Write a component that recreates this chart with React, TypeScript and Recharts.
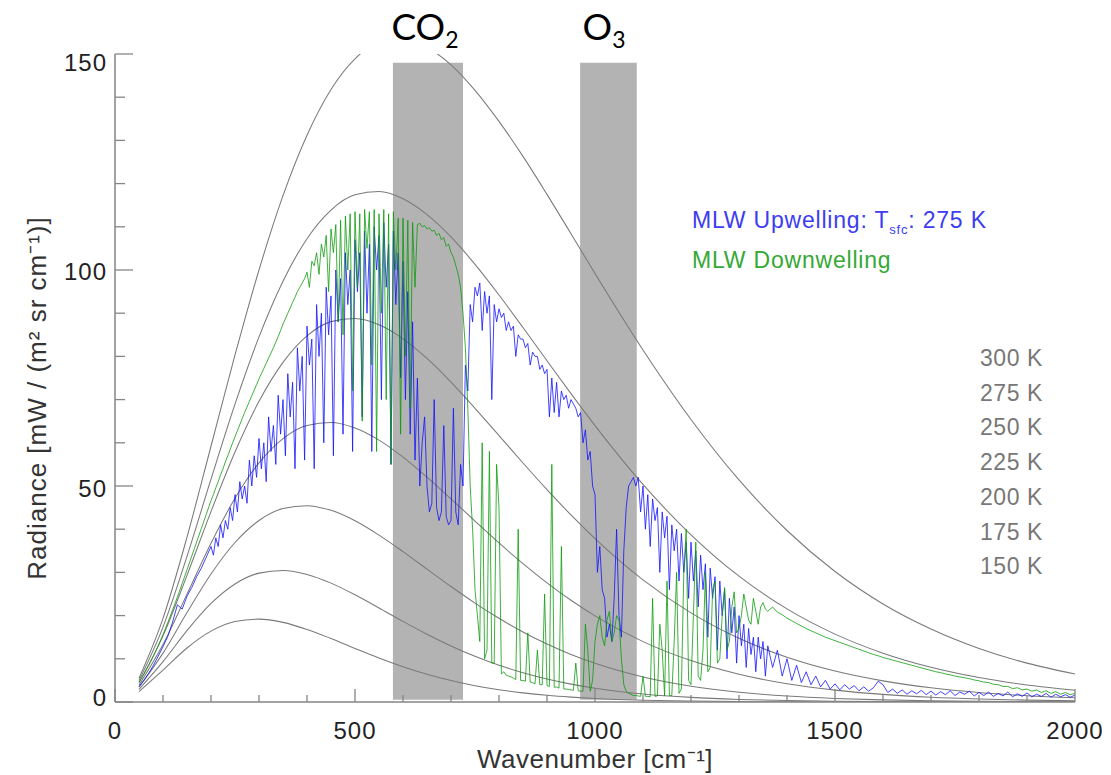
import React from "react";
import { LineChart, Line, XAxis, YAxis, ReferenceArea } from "recharts";

// wavenumber grid (cm-1) for the blackbody reference curves
const planckWaves = [
  50, 100, 150, 200, 250, 300, 350, 400, 450, 500, 550, 600, 650, 700, 750, 800, 850, 900, 950, 1000,
  1100, 1200, 1300, 1400, 1500, 1600, 1700, 1800, 1900, 2000,
];

// radiance, mW / (m2 sr cm-1)
const planck300 = [5.49, 19.35, 38.17, 59.2, 80.33, 100.0, 117.2, 131.2, 141.8, 148.9, 152.6, 153.4, 151.5, 147.5, 141.6, 134.4, 126.3, 117.5, 108.4, 99.2, 81.5, 65.4, 51.4, 39.7, 30.2, 22.7, 16.9, 12.4, 9.0, 6.5];
const planck275 = [4.98, 17.33, 33.72, 51.58, 68.96, 84.52, 97.42, 107.25, 113.87, 117.4, 118.16, 116.49, 112.83, 107.65, 101.3, 94.21, 86.68, 78.99, 71.37, 63.98, 50.36, 38.7, 29.13, 21.55, 15.71, 11.3, 8.03, 5.65, 3.94, 2.72];
const planck250 = [4.47, 15.31, 29.32, 44.08, 57.87, 69.59, 78.61, 84.74, 88.05, 88.77, 87.31, 84.07, 79.52, 74.04, 67.99, 61.67, 55.33, 49.16, 43.3, 37.83, 28.28, 20.64, 14.75, 10.36, 7.16, 4.89, 3.3, 2.2, 1.46, 0.96];
const planck225 = [3.95, 13.3, 24.97, 36.75, 47.16, 55.35, 60.97, 64.01, 64.72, 63.44, 60.63, 56.7, 52.05, 47.01, 41.87, 36.82, 32.03, 27.58, 23.54, 19.93, 13.98, 9.58, 6.42, 4.23, 2.75, 1.76, 1.11, 0.7, 0.43, 0.27];
const planck200 = [3.44, 11.31, 20.7, 29.63, 36.92, 42.01, 44.78, 45.45, 44.37, 41.96, 38.64, 34.81, 30.76, 26.73, 22.9, 19.37, 16.2, 13.41, 11.0, 8.95, 5.8, 3.67, 2.27, 1.38, 0.83, 0.49, 0.29, 0.17, 0.09, 0.05];
const planck175 = [2.93, 9.34, 16.53, 22.81, 27.33, 29.83, 30.45, 29.54, 27.52, 24.82, 21.77, 18.67, 15.7, 12.98, 10.57, 8.5, 6.76, 5.31, 4.14, 3.2, 1.87, 1.07, 0.6, 0.33, 0.18, 0.09, 0.05, 0.03, 0.01, 0.01];
const planck150 = [2.42, 7.4, 12.5, 16.4, 18.61, 19.18, 18.43, 16.8, 14.69, 12.41, 10.19, 8.17, 6.42, 4.96, 3.78, 2.84, 2.11, 1.55, 1.13, 0.81, 0.41, 0.21, 0.1, 0.05, 0.02, 0.01, 0.01, 0, 0, 0];

const tempLabels = ["300 K", "275 K", "250 K", "225 K", "200 K", "175 K", "150 K"];

// spectra: main samples every 10 cm-1 from 50 to 2000,
// plus line samples halfway between them (205 .. 1355) where the lines are dense
const SPEC_START = 50;
const MID_START = 205;
const SPEC_STEP = 10;

const upwelling = [
  3.6, 5.0, 6.6, 8.5, 10.6,
  12.8, 15.2, 18.5, 22.5, 21.5, 24.5, 26.5, 29, 31, 33.5,
  36, 38, 41, 42, 45, 48, 51, 50, 56, 57, // 200
  61, 60, 66, 64, 71, 70, 76, 74, 82, 80,
  87, 84, 92, 90, 96, 94, 100, 98, 104, 100, // 400
  107, 104, 109, 106, 110, 108, 111, 106, 109, 104,
  102, 95, 88, 75, 60, 50, 46, 45, 44, 43, // 600
  42, 44, 55, 78, 92, 96, 97, 95, 94, 92,
  91, 90, 88, 87, 85, 84, 83, 81, 80, 78, // 800
  77, 75, 74, 72, 71, 70, 68, 67, 63, 58,
  48, 36, 24, 18, 24, 20, 35, 50, 52, 52, // 1000
  50, 48, 47, 45, 44, 43, 41, 40, 39, 37,
  37, 35, 34, 32, 31, 29, 28, 26, 24, 22, // 1200
  20, 18, 17, 15, 15, 14, 13, 8, 12, 6,
  10, 5, 8.5, 4.5, 7, 4, 6, 3.5, 5, 3, // 1400
  4.2, 2.8, 4, 3, 3.8, 2.6, 3.5, 2.5, 3.3, 4.8,
  4, 2.2, 3, 2, 2.8, 1.8, 2.6, 1.9, 2.7, 1.7, // 1600
  2.5, 1.6, 2.4, 1.7, 2.6, 1.5, 2.3, 1.8, 2.5, 1.4,
  2.2, 1.5, 2.3, 1.3, 2.0, 1.4, 2.3, 1.2, 1.9, 1.3, // 1800
  2.1, 1.2, 1.8, 1.3, 2.0, 1.1, 1.8, 1.2, 1.7, 1.1,
  1.6,
];

const upwellingLines = [
  34, 36, 38, 40, 42, 44, 47, 46, 50, 52, // 205
  54, 51, 58, 55, 62, 57, 66, 54, 72, 56,
  78, 54, 80, 60, 85, 57, 88, 62, 92, 58, // 405
  95, 66, 90, 58, 100, 70, 96, 55, 92, 75,
  70, 62, 56, 50, 66, 44, 70, 42, 64, 41, // 605
  68, 41, 50, 72, 88, 94, 86, 90, 70, 88,
  89, 86, 86, 80, 84, 82, 78, 80, 77, 76, // 805
  66, 67, 66, 70, 68, 69, 66, 60, 56, 50,
  30, 26, 15, 14, 40, 15, 45, 51, 50, 44, // 1005
  40, 36, 42, 30, 38, 26, 35, 28, 30, 24,
  28, 22, 26, 15, 24, 12, 20, 10, 16, 9, // 1205
  13, 8, 11, 7, 10, 6,
];

const downwelling = [
  4.6, 6.4, 8.4, 10.6, 13.0,
  15.6, 18.4, 21.3, 24.3, 27.4, 30.6, 33.8, 37, 40.2, 43.4,
  46.6, 49.6, 52.6, 55.6, 58.5, 61.4, 64.2, 67, 69.6, 72.2, // 200
  74.8, 77.2, 79.6, 82, 84.6, 87.5, 90, 92.5, 95, 97,
  99.5, 102, 104, 106, 108, 109.5, 110.5, 111.5, 112.5, 113, // 400
  113.5, 113, 114, 113.5, 114, 113, 114, 113, 113.5, 112,
  112, 111.5, 111, 110.5, 110, 109.5, 109, 108, 107, 105.5, // 600
  104, 101, 96, 82, 50, 26, 14, 10, 58, 9,
  45, 7, 6, 5.5, 40, 5, 16, 4.5, 12, 4, // 800
  3.8, 55, 3.5, 36, 3, 2.8, 9, 2.5, 18, 2.5,
  14, 20, 13, 21, 16, 19, 4, 2, 1.5, 1.4, // 1000
  6, 1.3, 24, 1.4, 12, 28, 1.5, 30, 3, 40,
  4, 37, 5, 30, 8, 28, 10, 26.5, 14, 25.5, // 1200
  17, 25, 19, 24, 18, 23, 21, 22, 20.8, 20.2,
  19.4, 18.8, 18.2, 17.6, 17.0, 16.5, 16.0, 15.5, 15.0, 14.6, // 1400
  14.2, 13.8, 13.4, 13.0, 12.6, 12.2, 11.8, 11.4, 11.0, 10.7,
  10.3, 10.0, 9.7, 9.4, 9.1, 8.8, 8.5, 8.2, 7.9, 7.6, // 1600
  7.3, 7.0, 6.8, 6.5, 6.3, 6.0, 5.8, 5.6, 5.4, 5.1,
  4.9, 4.6, 4.5, 4.1, 4.0, 3.6, 3.6, 3.1, 3.3, 2.8, // 1800
  3.0, 2.5, 2.8, 2.2, 2.6, 2.0, 2.4, 1.8, 2.2, 1.7,
  2.0,
];

const downwellingLines = [
  48, 51, 54, 57, 60, 62.8, 65.6, 68.3, 70.9, 73.5, // 205
  76, 78.4, 80.8, 83.3, 86, 88.7, 91.2, 93.7, 96, 98,
  96, 101, 99, 103, 95, 104, 88, 85, 100, 72, // 405
  96, 65, 105, 78, 58, 90, 70, 55, 100, 62,
  80, 68, 96, 110.8, 110.3, 109.8, 109.2, 108.5, 107.5, 106, // 605
  103, 99, 90, 68, 40, 20, 60, 12, 9, 55,
  6.5, 6.2, 5.8, 5.2, 5, 4.8, 4.6, 4.2, 4, 25, // 805
  3.6, 3.4, 3.2, 3, 2.9, 2.7, 2.6, 2.5, 12, 5,
  18, 15, 19, 14, 20, 10, 2.5, 1.8, 1.5, 1.3, // 1005
  1.3, 1.2, 1.3, 18, 1.4, 1.5, 14, 2, 30, 5,
  20, 6, 12, 7, 26, 9, 20, 12, 22, 16, // 1205
  20, 22, 18, 21, 22, 21.5,
];

const xTicks = [0, 100, 200, 300, 400, 500, 600, 700, 800, 900, 1000, 1100, 1200, 1300, 1400, 1500, 1600, 1700, 1800, 1900, 2000];
const yTicks = [0, 10, 20, 30, 40, 50, 60, 70, 80, 90, 100, 110, 120, 130, 140, 150];

const co2Band = [579, 725];
const o3Band = [969, 1087];

const W = 1111;
const H = 775;
const PLOT_LEFT = 115;
const PLOT_RIGHT = 1075;
const PLOT_TOP = 54;
const PLOT_BOTTOM = 702;
const AXIS = "#858585";
const FONT = "'Liberation Sans', Arial, sans-serif";

const toPoints = (xs: number[], ys: number[]) => xs.map((x, i) => ({ x, y: ys[i] }));

const specSeries = (main: number[], lines: number[]) => {
  const pts = main.map((y, i) => ({ x: SPEC_START + i * SPEC_STEP, y }));
  lines.forEach((y, i) => pts.push({ x: MID_START + i * SPEC_STEP, y }));
  return pts.sort((a, b) => a.x - b.x);
};

const planckSeries = [planck300, planck275, planck250, planck225, planck200, planck175, planck150];

const yLabelShift: Record<number, number> = { 150: 17, 100: 10, 50: 11, 0: 4 };

const BottomTick = (props: any) => {
  const { x, payload } = props;
  const major = payload.value % 500 === 0;
  return (
    <g>
      <line x1={x} y1={PLOT_BOTTOM} x2={x} y2={PLOT_BOTTOM - (major ? 13 : 7)} stroke={AXIS} strokeWidth={1.3} />
      {major && (
        <text x={x} y={739} textAnchor="middle" fontSize={24} letterSpacing={1} fill="#222" fontFamily={FONT}>
          {payload.value}
        </text>
      )}
    </g>
  );
};

const TopTick = (props: any) => {
  const { x, payload } = props;
  const major = payload.value % 500 === 0;
  return <line x1={x} y1={PLOT_TOP} x2={x} y2={PLOT_TOP + (major ? 13 : 7)} stroke={AXIS} strokeWidth={1.3} />;
};

const LeftTick = (props: any) => {
  const { y, payload } = props;
  const major = payload.value % 50 === 0;
  return (
    <g>
      <line x1={PLOT_LEFT} y1={y} x2={PLOT_LEFT + (major ? 18 : 10)} y2={y} stroke={AXIS} strokeWidth={1.3} />
      {major && (
        <text
          x={PLOT_LEFT - 8}
          y={y + (yLabelShift[payload.value] ?? 10)}
          textAnchor="end"
          fontSize={24}
          letterSpacing={1}
          fill="#222"
          fontFamily={FONT}
        >
          {payload.value}
        </text>
      )}
    </g>
  );
};

const RightTick = (props: any) => {
  const { y, payload } = props;
  const major = payload.value % 50 === 0;
  return <line x1={PLOT_RIGHT} y1={y} x2={PLOT_RIGHT - (major ? 18 : 10)} y2={y} stroke={AXIS} strokeWidth={1.3} />;
};

export default function App() {
  return (
    <div style={{ position: "absolute", left: 0, top: 0, width: W, height: H, background: "#fff" }}>
      <LineChart
        width={W}
        height={H}
        margin={{ top: PLOT_TOP, right: W - PLOT_RIGHT, bottom: 0, left: 0 }}
      >
        <XAxis
          dataKey="x"
          type="number"
          domain={[0, 2000]}
          allowDataOverflow
          ticks={xTicks}
          interval={0}
          height={H - PLOT_BOTTOM}
          tickLine={false}
          axisLine={{ stroke: AXIS, strokeWidth: 1.5 }}
          tick={BottomTick}
        />
        <XAxis
          xAxisId="top"
          orientation="top"
          dataKey="x"
          type="number"
          domain={[0, 2000]}
          allowDataOverflow
          ticks={xTicks}
          interval={0}
          height={0}
          tickLine={false}
          axisLine={{ stroke: AXIS, strokeWidth: 1.5 }}
          tick={TopTick}
        />
        <YAxis
          type="number"
          domain={[0, 150]}
          allowDataOverflow
          ticks={yTicks}
          interval={0}
          width={PLOT_LEFT}
          tickLine={false}
          axisLine={{ stroke: AXIS, strokeWidth: 1.5 }}
          tick={LeftTick}
        />
        <YAxis
          yAxisId="right"
          orientation="right"
          type="number"
          domain={[0, 150]}
          allowDataOverflow
          ticks={yTicks}
          interval={0}
          width={0}
          tickLine={false}
          axisLine={{ stroke: AXIS, strokeWidth: 1.5 }}
          tick={RightTick}
        />
        <ReferenceArea x1={co2Band[0]} x2={co2Band[1]} y1={0.5} y2={148} fill="#b3b3b3" fillOpacity={1} stroke="none" ifOverflow="visible" />
        <ReferenceArea x1={o3Band[0]} x2={o3Band[1]} y1={0.5} y2={148} fill="#b3b3b3" fillOpacity={1} stroke="none" ifOverflow="visible" />
        {planckSeries.map((vals, i) => (
          <Line
            key={tempLabels[i]}
            data={toPoints(planckWaves, vals)}
            dataKey="y"
            type="monotone"
            stroke="#7a7a7a"
            strokeWidth={1.05}
            dot={false}
            isAnimationActive={false}
          />
        ))}
        <Line
          data={specSeries(upwelling, upwellingLines)}
          dataKey="y"
          type="linear"
          stroke="#1414ff"
          strokeOpacity={0.8}
          strokeWidth={1}
          dot={false}
          isAnimationActive={false}
        />
        <Line
          data={specSeries(downwelling, downwellingLines)}
          dataKey="y"
          type="linear"
          stroke="#0a9a0a"
          strokeOpacity={0.78}
          strokeWidth={1}
          dot={false}
          isAnimationActive={false}
        />
      </LineChart>
      <svg width={W} height={H} style={{ position: "absolute", left: 0, top: 0, pointerEvents: "none" }}>
        <text x={425} y={40} textAnchor="middle" fontSize={37} fill="#000" fontFamily="Lato, sans-serif">
          CO<tspan fontSize={23} dy={8}>2</tspan>
        </text>
        <text x={604} y={40} textAnchor="middle" fontSize={37} fill="#000" fontFamily="Lato, sans-serif">
          O<tspan fontSize={23} dy={8}>3</tspan>
        </text>
        <text x={692} y={228} fontSize={23} letterSpacing={0.8} fill="#3c3cf2" fontFamily={FONT}>
          MLW Upwelling: T<tspan fontSize={13} dy={6}>sfc</tspan>
          <tspan dy={-6}>: 275 K</tspan>
        </text>
        <text x={692} y={268} fontSize={23} letterSpacing={0.8} fill="#35a835" fontFamily={FONT}>
          MLW Downwelling
        </text>
        {tempLabels.map((t, i) => (
          <text
            key={t}
            x={1043}
            y={366 + i * 34.7}
            textAnchor="end"
            fontSize={23}
            letterSpacing={0.6}
            fill="#777"
            fontFamily={FONT}
          >
            {t}
          </text>
        ))}
        <text x={595} y={768} textAnchor="middle" fontSize={26} letterSpacing={0.5} fill="#333" fontFamily={FONT}>
          Wavenumber [cm⁻¹]
        </text>
        <text
          transform="translate(46, 398) rotate(-90)"
          textAnchor="middle"
          fontSize={26}
          letterSpacing={1}
          fill="#333"
          fontFamily={FONT}
        >
          Radiance [mW / (m² sr cm⁻¹)]
        </text>
      </svg>
    </div>
  );
}
